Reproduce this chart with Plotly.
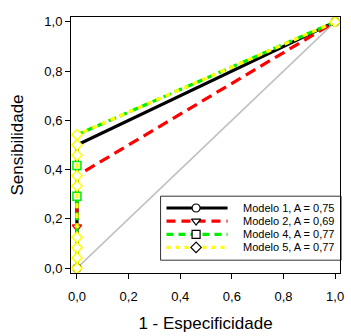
import plotly.graph_objects as go

# ROC vertices (1 - especificidade, sensibilidade)
m1_x = [0, 0, 1]
m1_y = [0, 12/24, 1]
m2_x = [0, 0, 1]
m2_y = [0, 9/24, 1]
m4_x = [0, 0, 1]
m4_y = [0, 13/24, 1]
m5_x = [0, 0, 1]
m5_y = [0, 13/24, 1]

# marker positions
m1_mx = [0, 1]
m1_my = [0, 1]
m2_mx = [0]
m2_my = [4/24]
m4_mx = [0, 0]
m4_my = [7/24, 10/24]
m5_mx = [0, 0, 0, 0, 0, 0, 0, 0, 0, 1]
m5_my = [0, 1/24, 2/24, 3/24, 8/24, 9/24, 11/24, 12/24, 13/24, 1]

diag_x = [0, 1]
diag_y = [0, 1]

names = ["Modelo 1, A = 0,75", "Modelo 2, A = 0,69", "Modelo 4, A = 0,77", "Modelo 5, A = 0,77"]

styles = [
    dict(color="black", dash="solid", symbol="circle"),
    dict(color="#ff0000", dash="11px,6px", symbol="triangle-down"),
    dict(color="#00ee00", dash="8px,4px", symbol="square"),
    dict(color="#ffff00", dash="5px,5px", symbol="diamond"),
]
legend_dash = ["solid", "9px,6px", "7px,5px", "4px,5px"]
lines = [(m1_x, m1_y), (m2_x, m2_y), (m4_x, m4_y), (m5_x, m5_y)]
marks = [(m1_mx, m1_my), (m2_mx, m2_my), (m4_mx, m4_my), (m5_mx, m5_my)]

fig = go.Figure()
fig.add_trace(go.Scatter(x=diag_x, y=diag_y, mode="lines",
                         line=dict(color="#c0c0c0", width=1.5), showlegend=False))

for (lx, ly), (mx, my), st in zip(lines, marks, styles):
    fig.add_trace(go.Scatter(x=lx, y=ly, mode="lines",
                             line=dict(color=st["color"], width=3.2, dash=st["dash"]),
                             showlegend=False))
    fig.add_trace(go.Scatter(x=mx, y=my, mode="markers",
                             marker=dict(symbol=st["symbol"], size=8, color="white",
                                         line=dict(color=st["color"], width=1.5)),
                             showlegend=False))

# custom legend drawn in plot-area fractions (overlay axes)
leg_x0, leg_x1 = 0.333, 1.004
leg_y0, leg_y1 = 0.05, 0.30
row_y = [0.254, 0.203, 0.151, 0.100]
line_x0, line_x1, mark_x, text_x = 0.355, 0.582, 0.465, 0.632

fig.add_shape(type="rect", xref="paper", yref="paper",
              x0=leg_x0, x1=leg_x1, y0=leg_y0, y1=leg_y1,
              line=dict(color="#333333", width=1), fillcolor="white", layer="below")

for ry, st, ld, nm in zip(row_y, styles, legend_dash, names):
    fig.add_trace(go.Scatter(x=[line_x0, line_x1], y=[ry, ry], mode="lines",
                             xaxis="x2", yaxis="y2", showlegend=False, hoverinfo="skip",
                             line=dict(color=st["color"], width=3.2, dash=ld)))
    fig.add_trace(go.Scatter(x=[mark_x], y=[ry], mode="markers",
                             xaxis="x2", yaxis="y2", showlegend=False, hoverinfo="skip",
                             marker=dict(symbol=st["symbol"], size=8, color="white",
                                         line=dict(color="black", width=1.2))))
    fig.add_annotation(x=text_x, y=ry, xref="paper", yref="paper", text=nm,
                       showarrow=False, xanchor="left", yanchor="middle",
                       font=dict(size=11, color="black"))

axis_common = dict(
    showgrid=False, zeroline=False, showline=True, linecolor="black", linewidth=1,
    mirror=True, ticks="outside", ticklen=5, tickcolor="black",
    tickformat=".1f", dtick=0.2, tick0=0,
    tickfont=dict(size=13, color="black"),
)
fig.update_xaxes(range=[-0.023, 1.019], ticklabelstandoff=6,
                 title=dict(text="1 - Especificidade", font=dict(size=17, color="black"), standoff=14),
                 **axis_common)
fig.update_yaxes(range=[-0.0197, 1.0197],
                 title=dict(text="Sensibilidade", font=dict(size=17, color="black"), standoff=16),
                 **axis_common)

fig.update_layout(
    width=351, height=336,
    margin=dict(l=71, r=7, t=17, b=55),
    paper_bgcolor="white", plot_bgcolor="white",
    separators=",.",
    font=dict(family="Liberation Sans, Arial, sans-serif", color="black"),
    showlegend=False,
    xaxis2=dict(overlaying="x", anchor="y2", range=[0, 1], visible=False, fixedrange=True),
    yaxis2=dict(overlaying="y", anchor="x2", range=[0, 1], visible=False, fixedrange=True),
)

fig.write_html("out.html", config={"displayModeBar": False},
               post_script="document.body.style.margin='0';")
